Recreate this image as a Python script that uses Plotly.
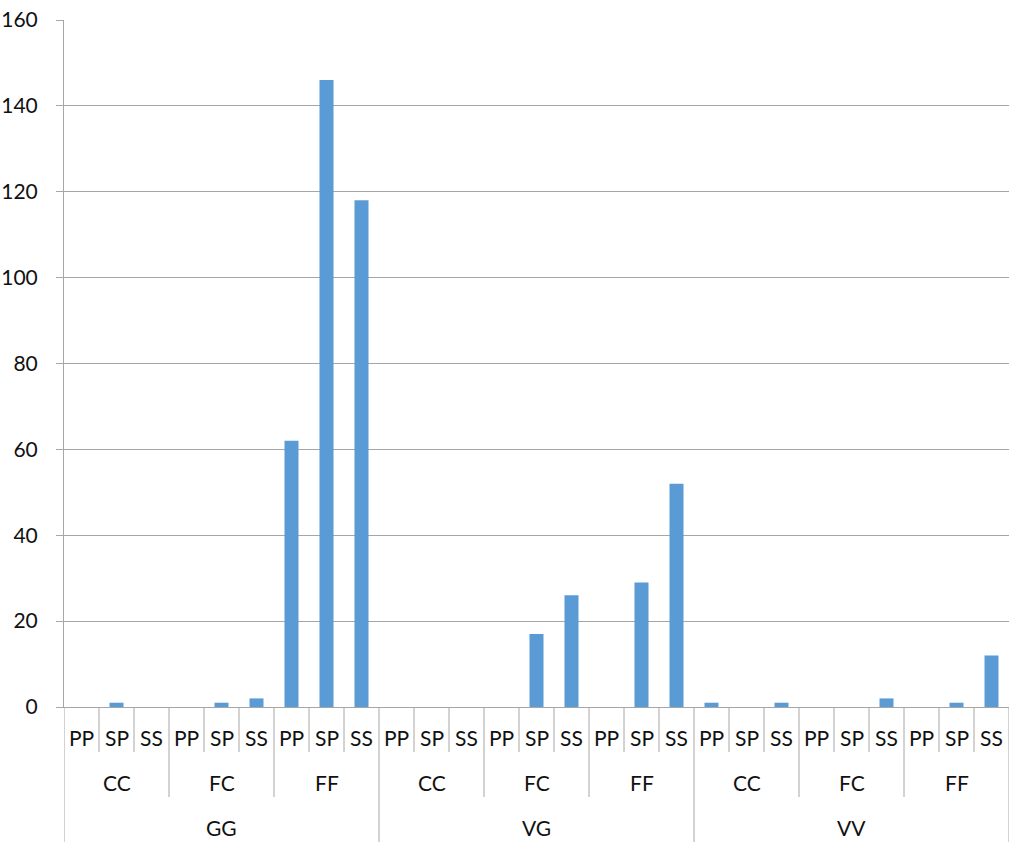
import plotly.graph_objects as go

# three-level category axis: group / subgroup / kind
groups = ['GG', 'VG', 'VV']
subgroups = ['CC', 'FC', 'FF']
kinds = ['PP', 'SP', 'SS']

values = [
    0, 1, 0,   0, 1, 2,   62, 146, 118,   # GG
    0, 0, 0,   0, 17, 26,  0, 29, 52,     # VG
    1, 0, 1,   0, 0, 2,    0, 1, 12,      # VV
]

W, H = 1024, 850
M_L, M_R, M_T, M_B = 64, 15, 20, 143
plot_h = H - M_T - M_B
line_col = '#A6A6A6'
font = dict(family='Lato, Open Sans, sans-serif', size=21, color='#111111')


def below(px):
    """paper y for px pixels below the x axis"""
    return -px / plot_h


x = list(range(len(values)))

fig = go.Figure(go.Bar(x=x, y=values, marker_color='#5B9BD5', marker_line_width=0))

shapes = []
annotations = []
n_kind = len(kinds)
n_sub = len(subgroups) * n_kind

# vertical dividers of the label table
for i in range(len(values) + 1):
    if i % n_sub == 0:
        depth = 135
    elif i % n_kind == 0:
        depth = 90
    else:
        depth = 45
    shapes.append(dict(type='line', xref='x', yref='paper', x0=i - 0.5, x1=i - 0.5,
                       y0=0, y1=below(depth), line=dict(color=line_col, width=1)))

lab = dict(xref='x', yref='paper', showarrow=False, font=font, yanchor='middle', xanchor='center')
for i in range(len(values)):
    annotations.append(dict(x=i, y=below(30), text=kinds[i % n_kind], **lab))
for j in range(len(groups) * len(subgroups)):
    annotations.append(dict(x=j * n_kind + 1, y=below(75), text=subgroups[j % len(subgroups)], **lab))
for k, g in enumerate(groups):
    annotations.append(dict(x=k * n_sub + 4, y=below(120), text=g, **lab))

fig.update_layout(
    width=W, height=H,
    margin=dict(l=M_L, r=M_R, t=M_T, b=M_B),
    plot_bgcolor='white', paper_bgcolor='white',
    bargap=0.6, showlegend=False,
    shapes=shapes, annotations=annotations,
    font=font,
)
fig.update_xaxes(range=[-0.5, len(values) - 0.5], showticklabels=False, showgrid=False,
                 zeroline=False, showline=True, linecolor=line_col, linewidth=1, ticks='')
fig.update_yaxes(range=[0, 160], dtick=20, showgrid=True, gridcolor=line_col, gridwidth=1,
                 zeroline=False, showline=True, linecolor=line_col, linewidth=1,
                 ticks='outside', ticklen=7, tickcolor=line_col, ticklabelstandoff=14,
                 tickfont=font, automargin=False)

# page body margin would shift the fixed-size figure
fig.write_html('out.html', config={'displayModeBar': False},
               post_script="document.body.style.margin='0';")
